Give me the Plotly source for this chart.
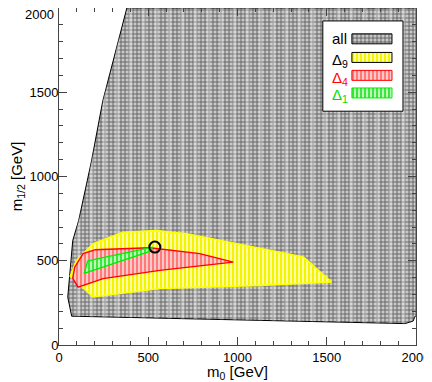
import plotly.graph_objects as go

# ---------------- data ----------------
all_m0 = [380, 2000, 2000, 1995, 1984, 1939, 71, 49, 77, 110, 182, 245, 380]
all_m12 = [2000, 2000, 171, 171, 142, 127, 171, 284, 620, 738, 1092, 1447, 2000]

d9_m0 = [359, 546, 715, 1051, 1369, 1528, 1126, 565, 191, 63, 98, 191, 359]
d9_m12 = [669, 679, 660, 591, 522, 374, 354, 335, 285, 408, 502, 601, 669]

d4_m0 = [200, 509, 789, 976, 565, 247, 107, 77, 88, 135, 200]
d4_m12 = [565, 577, 542, 492, 443, 394, 344, 396, 462, 542, 565]

d1_m0 = [161, 525, 509, 285, 141, 161]
d1_m12 = [499, 581, 555, 478, 425, 499]

best_m0 = [537]
best_m12 = [581]

x_tick_vals = [0, 500, 1000, 1500, 2000]
x_tick_text = ["0", "500", "1000", "1500", "2000"]
y_tick_vals = [0, 500, 1000, 1500, 2000]
y_tick_text = ["0", "500", "1000", "1500", ""]
y_top_label = "2000"

legend_names = ["all", "Δ<sub>9</sub>", "Δ<sub>4</sub>", "Δ<sub>1</sub>"]
legend_text_colors = ["#000000", "#000000", "#ff0000", "#00dd00"]

# ---------------- styles ----------------
FONT = "Liberation Sans, Arial, Helvetica, sans-serif"
styles = [
    dict(line="#000000", lw=1.0, fg="#5e5e5e", bg="#c8c8c8", box="#000000", shape="+", size=4, sol=0.4),
    dict(line="#ffff00", lw=1.6, fg="#f4f400", bg="#ffffb0", box="#000000", shape="|", size=4, sol=0.55),
    dict(line="#ff0000", lw=1.4, fg="#ff7070", bg="#ffc8c8", box="#ff0000", shape="|", size=4, sol=0.45),
    dict(line="#00ee00", lw=1.4, fg="#33e033", bg="#b8ffb8", box="#00ee00", shape="|", size=4, sol=0.45),
]
stripe = dict(shape="|", fgcolor="rgba(255,255,255,0.6)", bgcolor="rgba(0,0,0,0)",
              size=13, solidity=0.3, fillmode="overlay")

fig = go.Figure()

regions = [(all_m0, all_m12), (d9_m0, d9_m12), (d4_m0, d4_m12), (d1_m0, d1_m12)]
for i, ((xs, ys), st) in enumerate(zip(regions, styles)):
    fig.add_trace(go.Scatter(
        x=xs, y=ys, mode="lines", fill="toself",
        fillcolor=st["bg"],
        fillpattern=dict(shape=st["shape"], fgcolor=st["fg"], bgcolor=st["bg"],
                         size=st["size"], solidity=st["sol"], fillmode="replace"),
        line=dict(color=st["line"], width=st["lw"]),
        hoverinfo="skip", showlegend=False,
    ))
    if i == 0:
        fig.add_trace(go.Scatter(
            x=xs, y=ys, mode="lines", fill="toself", fillcolor="rgba(0,0,0,0)",
            fillpattern=stripe, line=dict(width=0, color="rgba(0,0,0,0)"),
            hoverinfo="skip", showlegend=False,
        ))

fig.add_trace(go.Scatter(
    x=best_m0, y=best_m12, mode="markers",
    marker=dict(symbol="circle", size=11, color="rgba(0,0,0,0)",
                line=dict(color="#000000", width=2)),
    showlegend=False, hoverinfo="skip",
))

# ---------------- custom legend (overlay axes, 0..1 = plot area) ----------------
bx0, bx1, by0, by1 = 0.739, 0.9635, 0.6938, 0.9616
fig.add_trace(go.Scatter(
    x=[bx0, bx1, bx1, bx0, bx0], y=[by0, by0, by1, by1, by0],
    xaxis="x2", yaxis="y2", mode="lines", fill="toself",
    fillcolor="#ffffff", line=dict(color="#000000", width=1),
    hoverinfo="skip", showlegend=False,
))
sx0, sx1, half = 0.8204, 0.9327, 0.0148
centers = [0.9085, 0.8533, 0.8001, 0.7479]
for c, st, name, tc in zip(centers, styles, legend_names, legend_text_colors):
    fig.add_trace(go.Scatter(
        x=[sx0, sx1, sx1, sx0, sx0], y=[c - half, c - half, c + half, c + half, c - half],
        xaxis="x2", yaxis="y2", mode="lines", fill="toself",
        fillcolor=st["bg"],
        fillpattern=dict(shape=st["shape"], fgcolor=st["fg"], bgcolor=st["bg"],
                         size=st["size"], solidity=st["sol"], fillmode="replace"),
        line=dict(color=st["box"], width=1),
        hoverinfo="skip", showlegend=False,
    ))
    fig.add_annotation(
        x=0.7595, y=c if name == "all" else c - 0.008, xref="paper", yref="paper",
        text=name, showarrow=False, xanchor="left", yanchor="middle",
        font=dict(family=FONT, size=15, color=tc),
    )

# top y tick label (kept inside the page)
fig.add_annotation(
    x=-0.008, y=1, xref="paper", yref="paper", text=y_top_label, showarrow=False,
    xanchor="right", yanchor="top", yshift=3,
    font=dict(family=FONT, size=13, color="#000000"),
)

axis_common = dict(
    range=[0, 2000],
    ticks="inside", ticklen=8, tickwidth=1, tickcolor="#444444",
    showline=True, linecolor="#444444", linewidth=1, mirror="ticks",
    showgrid=False, zeroline=False, automargin=False, ticklabeloverflow="allow",
    minor=dict(dtick=100, ticks="inside", ticklen=4, tickcolor="#444444", showgrid=False),
    tickfont=dict(family=FONT, size=13, color="#000000"),
)

fig.update_layout(
    width=424, height=374,
    margin=dict(l=51, r=16, t=0, b=37, autoexpand=False),
    paper_bgcolor="#ffffff", plot_bgcolor="#ffffff",
    showlegend=False,
    xaxis=dict(**axis_common, tickvals=x_tick_vals, ticktext=x_tick_text,
               title=dict(text="m<sub>0</sub> [GeV]", standoff=1,
                          font=dict(family=FONT, size=15, color="#000000"))),
    yaxis=dict(**axis_common, tickvals=y_tick_vals, ticktext=y_tick_text,
               ticklabelstandoff=-3,
               title=dict(text="m<sub>1/2</sub> [GeV]", standoff=10,
                          font=dict(family=FONT, size=15, color="#000000"))),
    xaxis2=dict(overlaying="x", range=[0, 1], visible=False, fixedrange=True),
    yaxis2=dict(overlaying="y", range=[0, 1], visible=False, fixedrange=True),
)

fig.write_html("out.html")
